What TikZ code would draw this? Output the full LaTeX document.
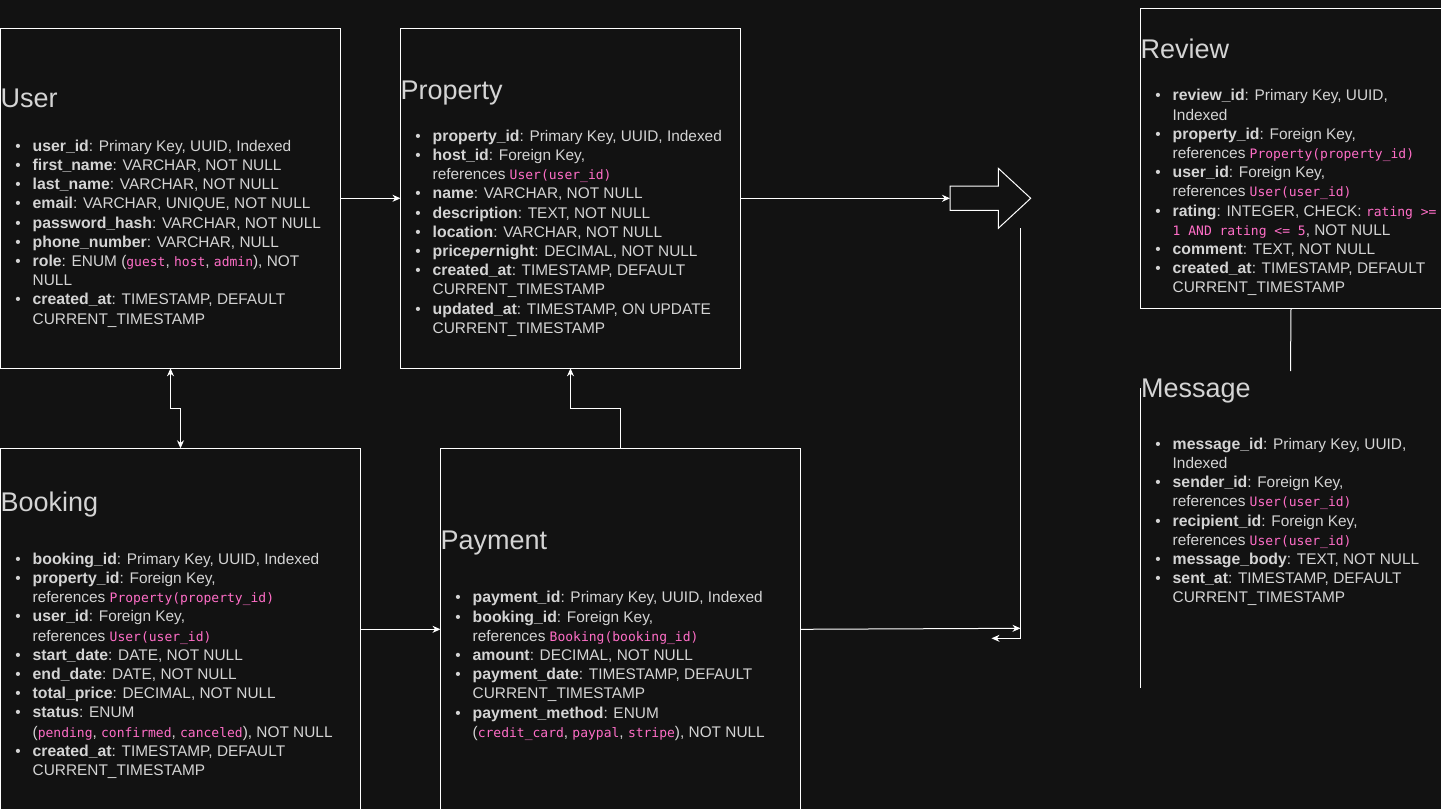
\documentclass[tikz,border=0pt]{standalone}
\usepackage{fontspec}
\setmainfont{Liberation Sans}
\newfontfamily\codefam{DejaVu Sans Mono}
\usetikzlibrary{arrows.meta}
\usetikzlibrary{positioning}
\definecolor{bgcol}{HTML}{121212}
\definecolor{txtcol}{HTML}{D4D4D4}
\definecolor{codepink}{HTML}{FF6EC7}
\newcommand{\bodyfont}{\fontsize{15.4}{19.2}\selectfont}
\newcommand{\titlefont}{\fontsize{27}{32}\selectfont}
\newcommand{\code}[1]{{\codefam\fontsize{13}{19.2}\selectfont\color{codepink}#1}}
\newcommand{\ls}{\rule[-5.2pt]{0pt}{19.2pt}}
\newcommand{\fld}[1]{\ls\llap{\textbullet\hspace{12pt}}{\fontsize{15.8}{19.2}\selectfont\textbf{#1}}}
\tikzset{
  entity/.style={draw=white, line width=1pt, anchor=north west, inner sep=0pt, outer sep=0pt},
  title/.style={anchor=base west, inner sep=0pt, text=txtcol, font=\titlefont},
  fields/.style={anchor=north west, inner sep=0pt, align=left, text=txtcol, font=\bodyfont},
  link/.style={draw=white, line width=1pt, ->},
  plain/.style={draw=white, line width=1pt},
  >={Stealth[length=8pt,width=7pt]}
}

\begin{document}
\begin{tikzpicture}[x=1pt, y=-1pt]
  \useasboundingbox (0,0) rectangle (1441,809);
  \fill[bgcol] (0,0) rectangle (1441,809);

  \node[entity, minimum width=340pt, minimum height=340pt] (user) at (0.5,28.3) {};
  \node[entity, minimum width=340pt, minimum height=340pt, right=60pt of user, anchor=west] (property) {};
  \node[entity, minimum width=360pt, minimum height=362pt, below=80pt of user.south west, anchor=north west] (booking) {};
  \node[entity, minimum width=360pt, minimum height=362pt, right=80pt of booking.north east, anchor=north west] (payment) {};
  \node[entity, minimum width=301pt, minimum height=300pt] (review) at (1140.5,8.3) {};
  \node[entity, draw=none, minimum width=301pt, minimum height=300pt, below=80pt of review.south west, anchor=north west] (message) {};
  \draw[plain] (message.north west) -- (message.south west);
  \draw[plain] (message.north east) -- (message.south east);

  \node[title] (user-title) at ([shift={(0,79)}]user.north west) {User};
  \node[fields] (user-fields) at ([shift={(32,108.7)}]user.north west) {%
    \fld{user\_id}: Primary Key, UUID, Indexed\\
    \fld{first\_name}: VARCHAR, NOT NULL\\
    \fld{last\_name}: VARCHAR, NOT NULL\\
    \fld{email}: VARCHAR, UNIQUE, NOT NULL\\
    \fld{password\_hash}: VARCHAR, NOT NULL\\
    \fld{phone\_number}: VARCHAR, NULL\\
    \fld{role}: ENUM (\code{guest}, \code{host}, \code{admin}), NOT\\
    \ls NULL\\
    \fld{created\_at}: TIMESTAMP, DEFAULT\\
    \ls CURRENT\_TIMESTAMP};

  \node[title] (property-title) at ([shift={(0,71)}]property.north west) {Property};
  \node[fields] (property-fields) at ([shift={(32,98.7)}]property.north west) {%
    \fld{property\_id}: Primary Key, UUID, Indexed\\
    \fld{host\_id}: Foreign Key,\\
    \ls references \code{User(user\_id)}\\
    \fld{name}: VARCHAR, NOT NULL\\
    \fld{description}: TEXT, NOT NULL\\
    \fld{location}: VARCHAR, NOT NULL\\
    \fld{price\textit{per}night}: DECIMAL, NOT NULL\\
    \fld{created\_at}: TIMESTAMP, DEFAULT\\
    \ls CURRENT\_TIMESTAMP\\
    \fld{updated\_at}: TIMESTAMP, ON UPDATE\\
    \ls CURRENT\_TIMESTAMP};

  \node[title] (review-title) at ([shift={(0,50)}]review.north west) {Review};
  \node[fields] (review-fields) at ([shift={(32,78.4)}]review.north west) {%
    \fld{review\_id}: Primary Key, UUID,\\
    \ls Indexed\\
    \fld{property\_id}: Foreign Key,\\
    \ls references \code{Property(property\_id)}\\
    \fld{user\_id}: Foreign Key,\\
    \ls references \code{User(user\_id)}\\
    \fld{rating}: INTEGER, CHECK: \code{rating >=}\\
    \ls\code{1 AND rating <= 5}, NOT NULL\\
    \fld{comment}: TEXT, NOT NULL\\
    \fld{created\_at}: TIMESTAMP, DEFAULT\\
    \ls CURRENT\_TIMESTAMP};

  \node[title] (message-title) at ([shift={(0.5,9)}]message.north west) {Message};
  \node[fields] (message-fields) at ([shift={(32,46.7)}]message.north west) {%
    \fld{message\_id}: Primary Key, UUID,\\
    \ls Indexed\\
    \fld{sender\_id}: Foreign Key,\\
    \ls references \code{User(user\_id)}\\
    \fld{recipient\_id}: Foreign Key,\\
    \ls references \code{User(user\_id)}\\
    \fld{message\_body}: TEXT, NOT NULL\\
    \fld{sent\_at}: TIMESTAMP, DEFAULT\\
    \ls CURRENT\_TIMESTAMP};

  \node[title] (booking-title) at ([shift={(0,63)}]booking.north west) {Booking};
  \node[fields] (booking-fields) at ([shift={(32,101.7)}]booking.north west) {%
    \fld{booking\_id}: Primary Key, UUID, Indexed\\
    \fld{property\_id}: Foreign Key,\\
    \ls references \code{Property(property\_id)}\\
    \fld{user\_id}: Foreign Key,\\
    \ls references \code{User(user\_id)}\\
    \fld{start\_date}: DATE, NOT NULL\\
    \fld{end\_date}: DATE, NOT NULL\\
    \fld{total\_price}: DECIMAL, NOT NULL\\
    \fld{status}: ENUM\\
    \ls(\code{pending}, \code{confirmed}, \code{canceled}), NOT NULL\\
    \fld{created\_at}: TIMESTAMP, DEFAULT\\
    \ls CURRENT\_TIMESTAMP};

  \node[title] (payment-title) at ([shift={(0,101)}]payment.north west) {Payment};
  \node[fields] (payment-fields) at ([shift={(32,140.4)}]payment.north west) {%
    \fld{payment\_id}: Primary Key, UUID, Indexed\\
    \fld{booking\_id}: Foreign Key,\\
    \ls references \code{Booking(booking\_id)}\\
    \fld{amount}: DECIMAL, NOT NULL\\
    \fld{payment\_date}: TIMESTAMP, DEFAULT\\
    \ls CURRENT\_TIMESTAMP\\
    \fld{payment\_method}: ENUM\\
    \ls(\code{credit\_card}, \code{paypal}, \code{stripe}), NOT NULL};

  \draw[plain] (950,186) -- (998.3,186) -- (998.3,168.3) -- (1030.7,198.3)
    -- (998.3,228.3) -- (998.3,210.3) -- (950,210.3) -- cycle;
  \coordinate (hub) at (950,198.3);
  \coordinate (junc) at (1020.5,628.3);
  \coordinate (drop) at (1020.5,228.3);
  \coordinate (ret) at (991.5,638.3);
  \coordinate (revend) at (1290.5,371);

  \draw[link] (user.east) -- (property.west);
  \draw[link, <->] (user.south) -- ++(0,40) -| (booking.north);
  \draw[link] (property.east) -- (hub);
  \draw[link] (booking.east) -- (payment.west);
  \draw[link] (payment.north) -- ++(0,-40) -| (property.south);
  \draw[link] (payment.east) -- (junc);
  \draw[link] (drop) |- (ret);
  \draw[plain] (review.south) -- (revend);
\end{tikzpicture}
\end{document}
